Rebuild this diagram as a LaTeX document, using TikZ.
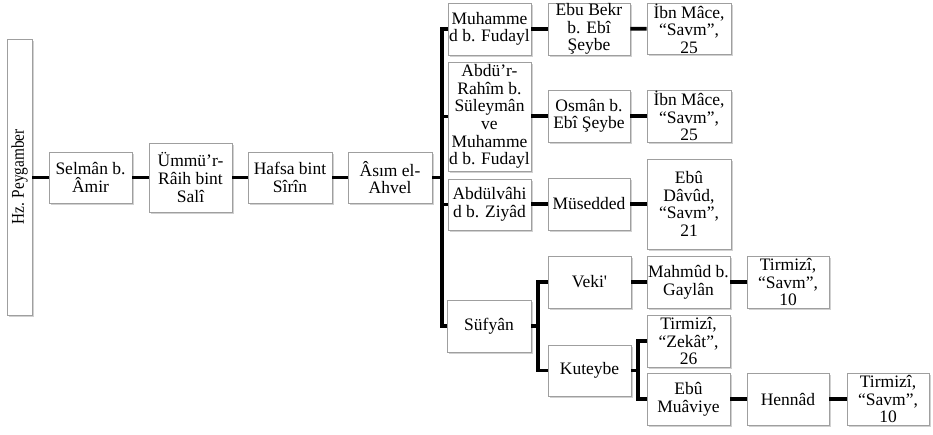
\documentclass[tikz,border=0pt]{standalone}
\usepackage{fontspec}
\setmainfont{Liberation Serif}
\usetikzlibrary{shadows}
\begin{document}
\begin{tikzpicture}[x=1pt,y=-1pt,
  box/.style={draw=gray!75, line width=0.8pt, fill=white, align=center, inner sep=0pt,
    minimum width=83pt, minimum height=52pt,
    font=\fontsize{17.5}{17.6}\selectfont,
    drop shadow={shadow xshift=1.5pt, shadow yshift=-2pt, fill=gray!60, opacity=0.6}},
  conn/.style={line width=3.8pt, line join=miter}]
\useasboundingbox (0,0) rectangle (933,435);
% chain
\node[box, minimum width=25pt, minimum height=276pt] (hz) at (19.5,177) {};
\node[rotate=90, inner sep=0pt, font=\fontsize{18}{18}\addfontfeature{FakeStretch=0.85}] (hzt) at (hz.center) {Hz. Peygamber};
\node[box, minimum height=51pt] (sel) at (90.5,177.5) {Selmân b.\\Âmir};
\node[box, minimum height=69pt] (umm) at (190.5,177.5) {Ümmü’r-\\Râih bint\\Salî};
\node[box, minimum width=84pt, minimum height=51pt] (haf) at (290,177.5) {Hafsa bint\\Sîrîn};
\node[box, minimum width=84pt, minimum height=51pt] (asim) at (390,177.5) {Âsım el-\\Ahvel};
% column 1
\node[box] (muh) at (489.5,29) {Muhamme\\d b. Fudayl};
\node[box, minimum height=109pt] (abd) at (489.5,116.5) {Abdü’r-\\Rahîm b.\\Süleymân\\ve\\Muhamme\\d b. Fudayl};
\node[box, minimum height=51pt] (abdv) at (489.5,204.5) {Abdülvâhi\\d b. Ziyâd};
\node[box, minimum width=84pt] (suf) at (489,326) {Süfyân};
% column 2
\node[box, minimum width=82pt] (ebk) at (589,29) {Ebu Bekr\\b. Ebî\\Şeybe};
\node[box, minimum width=82pt] (osm) at (589,116) {Osmân b.\\Ebî Şeybe};
\node[box, minimum width=82pt] (mus) at (589,204) {Müsedded};
\node[box] (veki) at (589.5,282) {Veki\textquotesingle};
\node[box, minimum height=51pt] (kut) at (589.5,370.5) {Kuteybe};
% column 3
\node[box, minimum width=84pt, minimum height=51pt] (ibn1) at (689,28.5) {İbn Mâce,\\“Savm”,\\25};
\node[box, minimum width=84pt] (ibn2) at (689,116) {İbn Mâce,\\“Savm”,\\25};
\node[box, minimum width=84pt, minimum height=90pt] (ebd) at (689,204) {Ebû\\Dâvûd,\\“Savm”,\\21};
\node[box] (mah) at (688.5,282) {Mahmûd b.\\Gaylân};
\node[box] (zek) at (688.5,341) {Tirmizî,\\“Zekât”,\\26};
\node[box] (ebm) at (688.5,399) {Ebû\\Muâviye};
% column 4/5
\node[box, minimum width=82pt] (tir1) at (788,282) {Tirmizî,\\“Savm”,\\10};
\node[box, minimum width=82pt] (hen) at (788,399) {Hennâd};
\node[box, minimum width=82pt] (tir3) at (888,399) {Tirmizî,\\“Savm”,\\10};
% junctions
\coordinate (bar) at (442,177.5);
\coordinate (j2) at (538,326);
\coordinate (j3) at (638,370.5);
% connectors
\draw[conn] (hz.east |- sel.west) -- (sel.west);
\draw[conn] (sel) -- (umm);
\draw[conn] (umm) -- (haf);
\draw[conn] (haf) -- (asim);
\draw[conn] (asim.east) -- (bar);
\draw[conn] (muh.west) -| (bar) |- (suf.west);
\draw[conn] (bar) |- (abd.west);
\draw[conn] (bar) |- (abdv.west);
\draw[conn] (muh) -- (ebk);
\draw[conn] (ebk) -- (ibn1);
\draw[conn] (abd.east |- osm.west) -- (osm.west);
\draw[conn] (osm) -- (ibn2);
\draw[conn] (abdv.east |- mus.west) -- (mus.west);
\draw[conn] (mus) -- (ebd);
\draw[conn] (suf.east) -- (j2);
\draw[conn] (veki.west) -| (j2) |- (kut.west);
\draw[conn] (veki) -- (mah);
\draw[conn] (mah) -- (tir1);
\draw[conn] (kut.east) -- (j3);
\draw[conn] (zek.west) -| (j3) |- (ebm.west);
\draw[conn] (ebm) -- (hen);
\draw[conn] (hen) -- (tir3);
\end{tikzpicture}
\end{document}
